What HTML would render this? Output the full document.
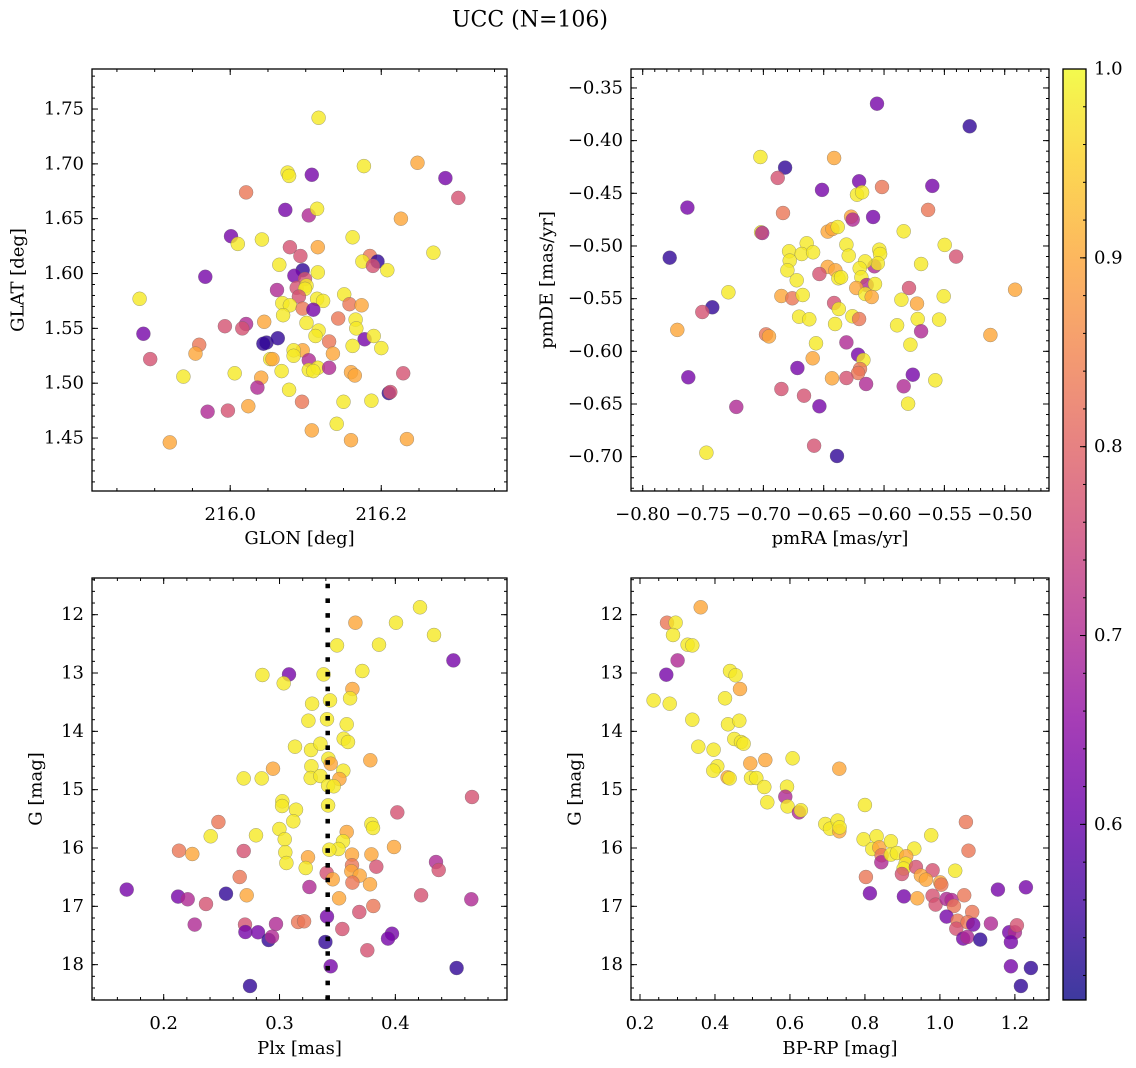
<!DOCTYPE html>
<html><head><meta charset="utf-8"><title>UCC (N=106)</title>
<style>
html,body{margin:0;padding:0;background:#fff;}
svg{display:block;font-family:"DejaVu Serif","Liberation Serif",serif;}
</style></head>
<body>
<svg id="fig" width="1136" height="1068" viewBox="0 0 1136 1068" xmlns="http://www.w3.org/2000/svg">
<rect width="1136" height="1068" fill="#fff"/>
<text x="530" y="20" font-size="22" text-anchor="middle" dominant-baseline="central">UCC (N=106)</text>
</svg>
<script>
// ---- data (Y=0.98,O=0.9,S=0.83,P=0.77,M=0.7,V=0.62,B=0.54 membership probability) ----
const p1Lon=[216.117,216.248,216.177,216.285,216.302,216.076,216.078,216.108,216.021,216.073,216.104,216.115,216.226,216.001,216.010,216.042,216.079,216.116,216.162,216.269,216.093,216.065,216.185,216.175,216.195,216.189,216.208,215.967,216.096,216.085,216.116,216.099,216.088,216.101,216.099,216.091,216.062,215.880,216.069,216.079,216.115,216.123,216.096,216.110,216.151,216.158,216.174,216.070,216.101,216.143,216.166,216.167,216.045,216.021,216.016,215.993,215.885,216.117,216.113,216.131,216.178,216.190,216.200,216.162,216.136,215.959,215.954,216.048,216.044,216.063,216.096,216.084,216.084,216.053,216.056,216.104,215.894,215.938,216.006,216.041,216.068,216.104,216.116,216.110,216.131,216.160,216.165,216.229,216.036,216.078,216.095,216.150,216.187,216.210,216.212,215.970,215.997,216.024,216.141,216.108,216.160,216.234,215.920];
const p1Lat=[1.742,1.701,1.698,1.687,1.669,1.692,1.689,1.690,1.674,1.658,1.653,1.659,1.650,1.634,1.627,1.631,1.624,1.624,1.633,1.619,1.616,1.608,1.616,1.611,1.611,1.607,1.603,1.597,1.603,1.598,1.601,1.595,1.587,1.589,1.586,1.579,1.585,1.577,1.573,1.571,1.577,1.575,1.568,1.567,1.581,1.572,1.571,1.562,1.555,1.559,1.558,1.550,1.556,1.554,1.550,1.552,1.545,1.548,1.543,1.538,1.540,1.543,1.532,1.534,1.527,1.535,1.527,1.537,1.536,1.541,1.530,1.530,1.525,1.522,1.522,1.521,1.522,1.506,1.509,1.505,1.511,1.512,1.514,1.511,1.514,1.510,1.507,1.509,1.496,1.494,1.483,1.483,1.484,1.491,1.492,1.474,1.475,1.479,1.463,1.457,1.448,1.449,1.446];
const p1Prob=[0.98,0.9,0.98,0.62,0.77,0.98,0.98,0.62,0.83,0.62, 0.7,0.98,0.9,0.62,0.98,0.98,0.77,0.9,0.98,0.98, 0.77,0.98,0.83,0.98,0.54,0.77,0.98,0.62,0.54,0.62, 0.98,0.77,0.77,0.98,0.98,0.77,0.7,0.98,0.98,0.98, 0.98,0.98,0.83,0.62,0.98,0.83,0.9,0.98,0.98,0.83, 0.98,0.98,0.9,0.7,0.77,0.77,0.62,0.98,0.98,0.83, 0.62,0.98,0.98,0.98,0.9,0.83,0.9,0.54,0.54,0.54, 0.9,0.98,0.98,0.98,0.9,0.7,0.77,0.98,0.98,0.9, 0.98,0.98,0.98,0.98,0.7,0.9,0.9,0.77,0.7,0.98, 0.83,0.98,0.98,0.54,0.77,0.7,0.77,0.9,0.98,0.9, 0.9,0.9,0.9];

const p2PmRA=[-0.6058,-0.529,-0.7025,-0.6414,-0.682,-0.6881,-0.6207,-0.6514,-0.6224,-0.6182,-0.56,-0.6017,-0.763,-0.6837,-0.5635,-0.6273,-0.626,-0.6091,-0.7019,-0.701,-0.6467,-0.6428,-0.6384,-0.5837,-0.5497,-0.5403,-0.7776,-0.6312,-0.6293,-0.6641,-0.6787,-0.6682,-0.6588,-0.6782,-0.6039,-0.6033,-0.608,-0.6052,-0.6157,-0.6202,-0.5693,-0.6801,-0.6467,-0.6403,-0.6536,-0.6378,-0.6356,-0.6188,-0.6144,-0.6075,-0.623,-0.6155,-0.6102,-0.6724,-0.6851,-0.676,-0.6674,-0.729,-0.5793,-0.5506,-0.5856,-0.5727,-0.4914,-0.7423,-0.7506,-0.6414,-0.6375,-0.6704,-0.6619,-0.6262,-0.6207,-0.6406,-0.5721,-0.5544,-0.5892,-0.5693,-0.7713,-0.6978,-0.6953,-0.5119,-0.6564,-0.5782,-0.6312,-0.6215,-0.6591,-0.6171,-0.6718,-0.6199,-0.6215,-0.5762,-0.6431,-0.6312,-0.6149,-0.5837,-0.5575,-0.7622,-0.6851,-0.6663,-0.6536,-0.7224,-0.5801,-0.658,-0.7472,-0.639];
const p2PmDE=[-0.3649,-0.3864,-0.4155,-0.4165,-0.4256,-0.4354,-0.4386,-0.4468,-0.4513,-0.449,-0.443,-0.444,-0.4636,-0.4687,-0.4658,-0.4722,-0.475,-0.4725,-0.487,-0.4877,-0.4864,-0.4839,-0.482,-0.4861,-0.499,-0.5101,-0.5111,-0.4987,-0.5092,-0.4975,-0.5051,-0.5076,-0.506,-0.5139,-0.5035,-0.5076,-0.5193,-0.5165,-0.5146,-0.5212,-0.5171,-0.5231,-0.5199,-0.5231,-0.5266,-0.5307,-0.5297,-0.5297,-0.537,-0.5361,-0.5399,-0.5456,-0.5484,-0.5326,-0.5475,-0.5497,-0.5465,-0.544,-0.5399,-0.5478,-0.551,-0.5547,-0.5415,-0.5582,-0.5627,-0.5541,-0.5598,-0.5671,-0.5696,-0.5668,-0.5693,-0.5741,-0.5693,-0.5699,-0.5753,-0.581,-0.5797,-0.5839,-0.5858,-0.5845,-0.5924,-0.5937,-0.5915,-0.6032,-0.6066,-0.6082,-0.6158,-0.6168,-0.6206,-0.6222,-0.6256,-0.6253,-0.631,-0.6332,-0.6275,-0.6247,-0.6358,-0.6421,-0.6522,-0.6528,-0.6497,-0.6896,-0.6962,-0.6994];
const p2Prob=[0.62,0.54,0.98,0.9,0.54,0.77,0.62,0.62,0.98,0.98, 0.62,0.83,0.62,0.83,0.83,0.9,0.7,0.62,0.98,0.7, 0.9,0.9,0.98,0.98,0.98,0.77,0.54,0.98,0.98,0.98, 0.98,0.98,0.98,0.98,0.98,0.98,0.7,0.98,0.98,0.98, 0.98,0.98,0.9,0.9,0.77,0.98,0.98,0.98,0.7,0.98, 0.9,0.98,0.9,0.98,0.9,0.83,0.98,0.98,0.77,0.98, 0.98,0.9,0.9,0.54,0.77,0.77,0.98,0.98,0.98,0.98, 0.83,0.98,0.98,0.98,0.98,0.7,0.9,0.83,0.9,0.9, 0.98,0.98,0.7,0.62,0.9,0.98,0.62,0.83,0.83,0.62, 0.9,0.77,0.7,0.7,0.98,0.62,0.77,0.77,0.62,0.7, 0.98,0.77,0.98,0.54];

const p3Plx=[0.4213,0.3655,0.4006,0.4334,0.3496,0.3859,0.4501,0.2852,0.3082,0.3036,0.3381,0.3715,0.3629,0.3609,0.3436,0.3281,0.3249,0.341,0.358,0.3554,0.3591,0.3134,0.3272,0.3353,0.3422,0.3442,0.3784,0.3551,0.3275,0.2944,0.2691,0.2846,0.3269,0.3353,0.3517,0.3419,0.3468,0.3419,0.4662,0.4017,0.3024,0.3022,0.3142,0.3119,0.2472,0.2406,0.2797,0.2999,0.3045,0.358,0.3548,0.3508,0.343,0.3793,0.3807,0.3988,0.2132,0.2247,0.2691,0.305,0.3059,0.3246,0.3226,0.3626,0.3793,0.3836,0.3626,0.362,0.3692,0.3407,0.3459,0.4351,0.4374,0.2656,0.3629,0.3781,0.3258,0.1681,0.2124,0.2207,0.2538,0.2717,0.2365,0.3514,0.4222,0.4656,0.381,0.3689,0.2268,0.2702,0.297,0.316,0.3212,0.341,0.3542,0.2705,0.2814,0.2906,0.2935,0.3396,0.3971,0.3937,0.3758,0.3442,0.4529,0.2745];
const p3G=[11.874,12.137,12.137,12.349,12.526,12.514,12.783,13.034,13.023,13.177,13.023,12.966,13.274,13.434,13.469,13.526,13.817,13.794,13.88,14.126,14.183,14.263,14.32,14.211,14.469,14.554,14.497,14.674,14.6,14.64,14.806,14.806,14.8,14.766,14.817,14.931,14.943,15.269,15.126,15.389,15.2,15.28,15.343,15.543,15.554,15.8,15.783,15.674,15.851,15.726,15.886,16.017,16.029,15.589,15.657,15.983,16.046,16.103,16.051,16.074,16.257,16.16,16.343,16.114,16.109,16.32,16.297,16.4,16.474,16.429,16.537,16.24,16.377,16.497,16.594,16.623,16.669,16.714,16.834,16.88,16.783,16.811,16.96,16.863,16.811,16.88,16.994,17.097,17.314,17.314,17.303,17.269,17.257,17.177,17.389,17.44,17.446,17.577,17.52,17.611,17.469,17.554,17.754,18.029,18.057,18.366];
const p3Prob=[0.98,0.9,0.98,0.98,0.98,0.98,0.62,0.98,0.62,0.98, 0.98,0.98,0.9,0.98,0.98,0.98,0.98,0.98,0.98,0.98, 0.98,0.98,0.98,0.98,0.98,0.9,0.9,0.98,0.98,0.9, 0.98,0.98,0.98,0.98,0.9,0.98,0.98,0.98,0.77,0.77, 0.98,0.98,0.98,0.98,0.83,0.98,0.98,0.98,0.98,0.9, 0.98,0.98,0.98,0.98,0.98,0.9,0.83,0.9,0.77,0.98, 0.98,0.9,0.98,0.9,0.9,0.77,0.83,0.9,0.9,0.77, 0.9,0.7,0.77,0.83,0.83,0.9,0.7,0.62,0.62,0.7, 0.54,0.9,0.77,0.9,0.77,0.7,0.83,0.77,0.7,0.77, 0.7,0.83,0.83,0.62,0.77,0.62,0.62,0.54,0.7,0.54, 0.62,0.62,0.77,0.62,0.54,0.54];

const p4BpRp=[0.3618,0.272,0.2951,0.288,0.3271,0.3396,0.3004,0.2702,0.44,0.4551,0.4667,0.4267,0.2364,0.2791,0.3396,0.4347,0.4649,0.4516,0.4693,0.4764,0.3556,0.3964,0.4942,0.5342,0.6071,0.7316,0.4062,0.3956,0.4338,0.4391,0.496,0.5102,0.5316,0.592,0.5876,0.5396,0.5938,0.624,0.6293,0.8,0.6942,0.7067,0.7271,0.7316,0.7324,1.0693,0.7964,0.8311,0.8196,0.8382,0.8444,0.8436,0.8693,0.8693,0.8853,0.9316,0.9102,0.9084,0.9031,0.8987,0.936,0.9769,0.9804,1.0409,1.0764,0.9493,0.9627,1.0009,1.0036,0.8027,0.8133,0.904,0.9396,0.9804,0.9884,1.0178,1.0311,1.0373,1.0649,1.0862,1.1547,1.2293,1.0178,1.0471,1.0436,1.0738,1.0889,1.136,1.0622,1.0729,1.1076,1.1849,1.2,1.2053,1.1893,1.1893,1.2427,1.216];
const p4G=[11.874,12.137,12.137,12.349,12.514,12.526,12.783,13.029,12.966,13.04,13.274,13.434,13.469,13.526,13.8,13.88,13.817,14.131,14.183,14.211,14.263,14.314,14.549,14.491,14.463,14.64,14.6,14.674,14.789,14.806,14.8,14.8,14.954,14.949,15.12,15.217,15.286,15.389,15.354,15.263,15.589,15.669,15.531,15.714,15.646,15.554,15.851,15.8,16.017,15.989,16.126,16.246,15.886,16.114,16.086,16.011,16.143,16.269,16.354,16.446,16.326,15.783,16.383,16.389,16.046,16.474,16.543,16.589,16.629,16.497,16.777,16.829,16.863,16.817,16.971,16.874,16.891,16.994,16.811,17.097,16.714,16.674,17.177,17.246,17.383,17.274,17.314,17.297,17.554,17.526,17.571,17.446,17.446,17.326,17.611,18.029,18.057,18.366];
const p4Prob=[0.9,0.83,0.98,0.98,0.98,0.98,0.7,0.62,0.98,0.98, 0.9,0.98,0.98,0.98,0.98,0.98,0.98,0.98,0.98,0.98, 0.98,0.98,0.9,0.9,0.98,0.9,0.98,0.98,0.9,0.98, 0.98,0.98,0.98,0.98,0.7,0.98,0.98,0.7,0.98,0.98, 0.98,0.98,0.98,0.9,0.98,0.83,0.98,0.98,0.98,0.9, 0.83,0.7,0.98,0.98,0.98,0.98,0.9,0.98,0.98,0.77, 0.77,0.98,0.77,0.98,0.83,0.9,0.9,0.9,0.83,0.83, 0.62,0.62,0.9,0.77,0.77,0.7,0.7,0.83,0.83,0.83, 0.62,0.62,0.62,0.83,0.77,0.83,0.62,0.7,0.62,0.7, 0.54,0.62,0.7,0.77,0.62,0.62,0.54,0.54];

const plxMedian=0.3416;

// tick labels
const p1XTicks=[216.0,216.2];
const p1YTicks=[1.45,1.50,1.55,1.60,1.65,1.70,1.75];
const p2XTicks=[-0.80,-0.75,-0.70,-0.65,-0.60,-0.55,-0.50];
const p2YTicks=[-0.35,-0.40,-0.45,-0.50,-0.55,-0.60,-0.65,-0.70];
const p3XTicks=[0.2,0.3,0.4];
const gTicks=[12,13,14,15,16,17,18];
const p4XTicks=[0.2,0.4,0.6,0.8,1.0,1.2];
const cbTicks=[0.6,0.7,0.8,0.9,1.0];

// ---- rendering ----
const NS="http://www.w3.org/2000/svg";
const FS=18;
const svg=document.getElementById('fig');
function mk(tag,attrs,parent){const e=document.createElementNS(NS,tag);for(const k in attrs)e.setAttribute(k,attrs[k]);(parent||svg).appendChild(e);return e;}
const VMIN=0.507,VMAX=1.0;
const plasma=[[13,8,135],[65,4,157],[106,0,168],[143,13,164],[177,42,144],[204,71,120],[225,100,98],[242,132,75],[252,166,54],[252,206,37],[240,249,33]];
function cmap(v){let t=(v-VMIN)/(VMAX-VMIN);t=Math.max(0,Math.min(1,t));const f=t*10,i=Math.min(9,Math.floor(f)),r=f-i;const a=plasma[i],b=plasma[i+1];return 'rgb('+a.map((c,k)=>Math.round(c+(b[k]-c)*r)).join(',')+')';}
const fmtMinus=s=>s.replace('-','\u2212');

function panel(cfg){
  const {id,L,T,W,H,xmin,xmax,ymin,ymax,yInv}=cfg;
  const sx=v=>L+(v-xmin)/(xmax-xmin)*W;
  const sy=yInv?(v=>T+(v-ymin)/(ymax-ymin)*H):(v=>T+H-(v-ymin)/(ymax-ymin)*H);
  const g=mk('g',{});
  
  
  const cp=mk('clipPath',{id:id+'-clip'},g);mk('rect',{x:L,y:T,width:W,height:H},cp);
  const pts=mk('g',{'clip-path':'url(#'+id+'-clip)'},g);
  
  
  for(let i=0;i<cfg.xs.length;i++){
    const c=mk('circle',{cx:sx(cfg.xs[i]).toFixed(1),cy:sy(cfg.ys[i]).toFixed(1),r:7,fill:cmap(cfg.cs[i]),'fill-opacity':0.8,stroke:'#666','stroke-opacity':0.6,'stroke-width':0.5},pts);
    
    
  }
  if(cfg.vline!==undefined){
    const ln=mk('line',{x1:sx(cfg.vline),x2:sx(cfg.vline),y1:T+5.7,y2:T+H,stroke:'#000','stroke-width':4.5,'stroke-dasharray':'4.6 10.1'},pts);
    
    
  }
  const tg=mk('g',{stroke:'#000','stroke-width':1},g);
  function xt(step,len){const a=Math.ceil(xmin/step-1e-9),b=Math.floor(xmax/step+1e-9);for(let k=a;k<=b;k++){const x=sx(k*step);mk('line',{x1:x,x2:x,y1:T+H,y2:T+H-len},tg);mk('line',{x1:x,x2:x,y1:T,y2:T+len},tg);}}
  function yt(step,len){const lo=Math.min(ymin,ymax),hi=Math.max(ymin,ymax);const a=Math.ceil(lo/step-1e-9),b=Math.floor(hi/step+1e-9);for(let k=a;k<=b;k++){const y=sy(k*step);mk('line',{x1:L,x2:L+len,y1:y,y2:y},tg);mk('line',{x1:L+W,x2:L+W-len,y1:y,y2:y},tg);}}
  xt(cfg.xmin2,3);xt(cfg.xmaj,6);yt(cfg.ymin2,3);yt(cfg.ymaj,6);
  const fr=mk('rect',{x:L,y:T,width:W,height:H,fill:'none',stroke:'#000','stroke-width':1.3},g);
  
  
  cfg.xticks.forEach(v=>{const t=mk('text',{x:sx(v),y:T+H+29,'font-size':FS,'text-anchor':'middle'},g);t.textContent=fmtMinus(v.toFixed(cfg.xdec));
    
    });
  cfg.yticks.forEach(v=>{const t=mk('text',{x:L-8,y:sy(v),'font-size':FS,'text-anchor':'end','dominant-baseline':'central'},g);t.textContent=fmtMinus(v.toFixed(cfg.ydec));
    
    });
  const xl=mk('text',{x:L+W/2,y:T+H+cfg.xlOff,'font-size':FS,'text-anchor':'middle'},g);xl.textContent=cfg.xlabel;
  
  
  const cx=cfg.ylx,cy=T+H/2;
  const yl=mk('text',{x:cx,y:cy,'font-size':FS,'text-anchor':'middle','dominant-baseline':'central',transform:'rotate(-90 '+cx+' '+cy+')'},g);yl.textContent=cfg.ylabel;
  
  
}

panel({id:'sky',L:92,T:69,W:415,H:422,xmin:215.817,xmax:216.3665,ymin:1.4017,ymax:1.7865,xs:p1Lon,ys:p1Lat,cs:p1Prob,xmaj:0.2,xmin2:0.05,ymaj:0.05,ymin2:0.01,xticks:p1XTicks,yticks:p1YTicks,xdec:1,ydec:2,xlabel:'GLON [deg]',ylabel:'GLAT [deg]',ylx:18,xlOff:53});
panel({id:'pm',L:631,T:69,W:418,H:422,xmin:-0.8097,xmax:-0.4633,ymin:-0.7326,ymax:-0.332,xs:p2PmRA,ys:p2PmDE,cs:p2Prob,xmaj:0.05,xmin2:0.01,ymaj:0.05,ymin2:0.01,xticks:p2XTicks,yticks:p2YTicks,xdec:2,ydec:2,xlabel:'pmRA [mas/yr]',ylabel:'pmDE [mas/yr]',ylx:547,xlOff:53});
panel({id:'plx',L:92,T:578,W:415,H:422,xmin:0.1381,xmax:0.4964,ymin:11.371,ymax:18.606,yInv:true,xs:p3Plx,ys:p3G,cs:p3Prob,vline:plxMedian,xmaj:0.1,xmin2:0.02,ymaj:1,ymin2:0.2,xticks:p3XTicks,yticks:gTicks,xdec:1,ydec:0,xlabel:'Plx [mas]',ylabel:'G [mag]',ylx:36,xlOff:54});
panel({id:'cmd',L:631,T:578,W:418,H:422,xmin:0.176,xmax:1.291,ymin:11.371,ymax:18.606,yInv:true,xs:p4BpRp,ys:p4G,cs:p4Prob,xmaj:0.2,xmin2:0.05,ymaj:1,ymin2:0.2,xticks:p4XTicks,yticks:gTicks,xdec:1,ydec:0,xlabel:'BP-RP [mag]',ylabel:'G [mag]',ylx:575,xlOff:54});

// colorbar
(function(){
  const L=1063,T=69,W=23,H=931;
  const sy=v=>T+H-(v-VMIN)/(VMAX-VMIN)*H;
  const g=mk('g',{});
  
  
  const defs=mk('defs',{},g);
  const lg=mk('linearGradient',{id:'cbgrad',x1:0,y1:1,x2:0,y2:0},defs);
  for(let i=0;i<=20;i++){const v=VMIN+(VMAX-VMIN)*i/20;mk('stop',{offset:(i/20),'stop-color':cmap(v),'stop-opacity':0.8},lg);}
  mk('rect',{x:L,y:T,width:W,height:H,fill:'url(#cbgrad)'},g);
  const tg=mk('g',{stroke:'#000','stroke-width':1},g);
  for(let k=Math.ceil(VMIN/0.02);k<=Math.floor(VMAX/0.02+1e-9);k++){const y=sy(k*0.02);mk('line',{x1:L+W,x2:L+W-3,y1:y,y2:y},tg);}
  cbTicks.forEach(v=>{const y=sy(v);mk('line',{x1:L+W,x2:L+W-6,y1:y,y2:y},tg);
    const t=mk('text',{x:L+W+8,y:y,'font-size':FS,'dominant-baseline':'central'},g);t.textContent=v.toFixed(1);
    
    });
  mk('rect',{x:L,y:T,width:W,height:H,fill:'none',stroke:'#000','stroke-width':1.3},g);
})();
</script>
</body></html>
